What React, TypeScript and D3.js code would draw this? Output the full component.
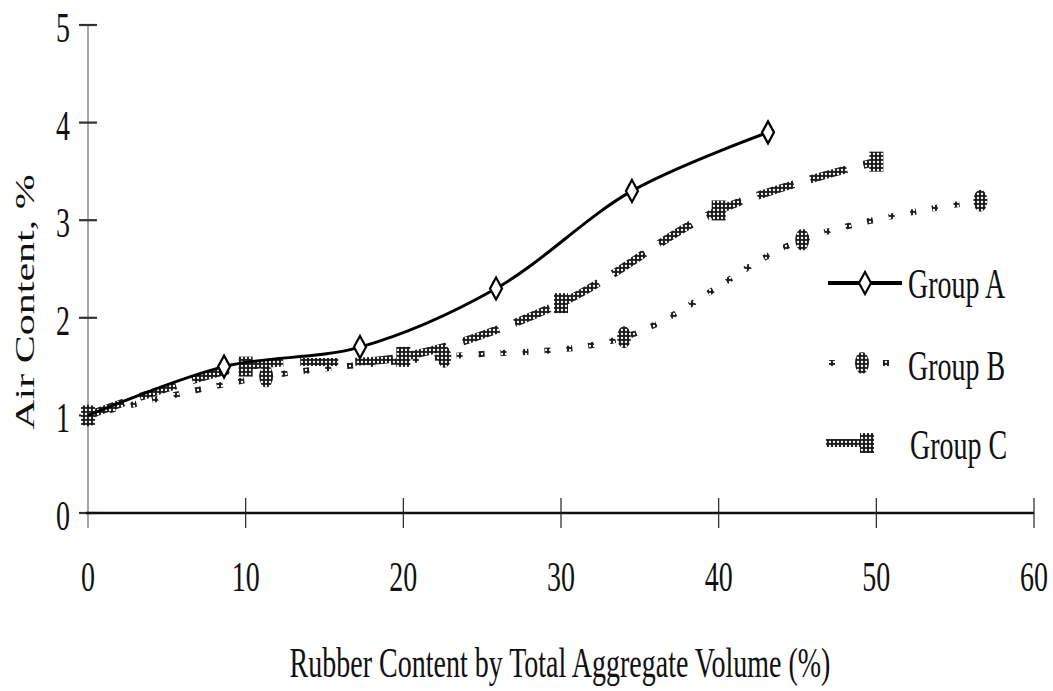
import React from "react";
import * as d3 from "d3";

// Rubber content (% of total aggregate volume) and measured air content (%)
const rubberA = [0, 8.63, 17.25, 25.88, 34.5, 43.13];
const airA = [1.0, 1.5, 1.7, 2.3, 3.3, 3.9];
const rubberB = [0, 11.3, 22.6, 34.0, 45.3, 56.6];
const airB = [1.0, 1.4, 1.6, 1.8, 2.8, 3.2];
const rubberC = [0, 10, 20, 30, 40, 50];
const airC = [1.0, 1.5, 1.6, 2.15, 3.1, 3.6];

const xTicks = [0, 10, 20, 30, 40, 50, 60];
const yTicks = [0, 1, 2, 3, 4, 5];
const groupNames = ["Group A", "Group B", "Group C"];

const W = 1053;
const H = 691;
const FONT = "'Liberation Serif', 'Times New Roman', serif";
const FS = 28;
const STRETCH = 1.5;

const x = d3.scaleLinear().domain([0, 60]).range([88, 1034]);
const y = d3.scaleLinear().domain([0, 5]).range([513, 25]);

const line = d3
  .line<[number, number]>()
  .x((d) => x(d[0]))
  .y((d) => y(d[1]))
  .curve(d3.curveCatmullRom.alpha(0.5));

const zip = (xs: number[], ys: number[]) =>
  xs.map((v, i) => [v, ys[i]] as [number, number]);

function Txt(props: {
  x: number;
  y: number;
  anchor?: string;
  rotate?: boolean;
  children: React.ReactNode;
}) {
  const t = `translate(${props.x},${props.y}) scale(1,${STRETCH})${
    props.rotate ? " rotate(-90)" : ""
  }`;
  return (
    <text
      transform={t}
      fontFamily={FONT}
      fontSize={FS}
      textAnchor={props.anchor || "start"}
      fill="#111"
    >
      {props.children}
    </text>
  );
}

function Diamond({ cx, cy }: { cx: number; cy: number }) {
  return (
    <path
      d={`M${cx},${cy - 11} L${cx + 6},${cy} L${cx},${cy + 11} L${cx - 6},${cy} Z`}
      fill="#fff"
      stroke="#000"
      strokeWidth={2.2}
    />
  );
}

function Blob({ cx, cy }: { cx: number; cy: number }) {
  return <ellipse cx={cx} cy={cy} rx={7} ry={11} fill="url(#halftone)" />;
}

function Block({ cx, cy }: { cx: number; cy: number }) {
  return (
    <rect x={cx - 7} y={cy - 10} width={14} height={20} fill="url(#halftone)" />
  );
}

export default function App() {
  const dataA = zip(rubberA, airA);
  const dataB = zip(rubberB, airB);
  const dataC = zip(rubberC, airC);
  const legendY = [283, 363, 443];

  return (
    <svg
      width={W}
      height={H}
      style={{ position: "absolute", left: 0, top: 0, background: "#fff" }}
    >
      <defs>
        <pattern
          id="halftone"
          patternUnits="userSpaceOnUse"
          width={4}
          height={4}
        >
          <rect width={4} height={4} fill="#1c1c1c" />
          <circle cx={2} cy={2} r={1.15} fill="#fff" />
        </pattern>
      </defs>

      {/* y axis */}
      <line x1={x(0)} x2={x(0)} y1={y(5)} y2={528} stroke="#777" strokeWidth={1.3} />
      {yTicks.map((t) => (
        <g key={`yt${t}`}>
          <line x1={79} x2={97} y1={y(t)} y2={y(t)} stroke="#333" strokeWidth={2.2} />
          <Txt x={70} y={y(t) + 17} anchor="end">
            {t}
          </Txt>
        </g>
      ))}

      {/* x axis */}
      <line x1={x(0) - 2} x2={x(60)} y1={y(0)} y2={y(0)} stroke="#111" strokeWidth={2.4} />
      {xTicks.map((t) => (
        <g key={`xt${t}`}>
          {t > 0 && (
            <line x1={x(t)} x2={x(t)} y1={y(0) - 15} y2={y(0) + 15} stroke="#222" strokeWidth={1.2} />
          )}
          <Txt x={x(t)} y={591} anchor="middle">
            {t}
          </Txt>
        </g>
      ))}

      <Txt x={560} y={677} anchor="middle">
        Rubber Content by Total Aggregate Volume (%)
      </Txt>
      <Txt x={34} y={302} anchor="middle" rotate>
        Air Content, %
      </Txt>

      {/* Group C */}
      <path
        d={line(dataC) || ""}
        fill="none"
        stroke="url(#halftone)"
        strokeWidth={8}
        strokeDasharray="38 17"
      />
      {dataC.map((d, i) => (
        <Block key={`c${i}`} cx={x(d[0])} cy={y(d[1])} />
      ))}

      {/* Group B */}
      <path
        d={line(dataB) || ""}
        fill="none"
        stroke="url(#halftone)"
        strokeWidth={6}
        strokeDasharray="6 16"
      />
      {dataB.map((d, i) => (
        <Blob key={`b${i}`} cx={x(d[0])} cy={y(d[1])} />
      ))}

      {/* Group A */}
      <path d={line(dataA) || ""} fill="none" stroke="#000" strokeWidth={3} />
      {dataA.slice(1).map((d, i) => (
        <Diamond key={`a${i}`} cx={x(d[0])} cy={y(d[1])} />
      ))}

      {/* legend */}
      <g>
        <line x1={828} x2={902} y1={legendY[0]} y2={legendY[0]} stroke="#000" strokeWidth={4} />
        <Diamond cx={865} cy={legendY[0]} />
        <Txt x={908} y={legendY[0] + 15}>
          {groupNames[0]}
        </Txt>

        <line
          x1={829}
          x2={903}
          y1={legendY[1]}
          y2={legendY[1]}
          stroke="url(#halftone)"
          strokeWidth={6}
          strokeDasharray="6 21"
        />
        <Blob cx={862} cy={legendY[1]} />
        <Txt x={908} y={legendY[1] + 17}>
          {groupNames[1]}
        </Txt>

        <line x1={826} x2={872} y1={legendY[2]} y2={legendY[2]} stroke="url(#halftone)" strokeWidth={8} />
        <Block cx={867} cy={legendY[2]} />
        <Txt x={910} y={legendY[2] + 16}>
          {groupNames[2]}
        </Txt>
      </g>
    </svg>
  );
}
